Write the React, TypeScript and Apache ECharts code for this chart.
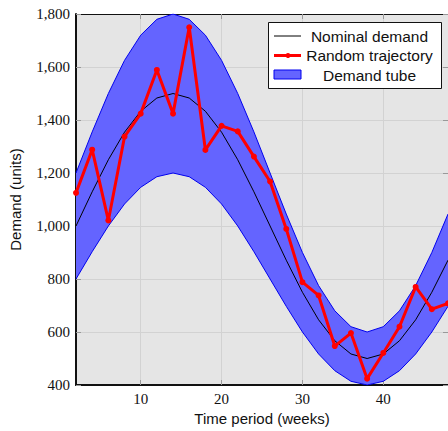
import React, { useEffect, useRef } from "react";
import * as echarts from "echarts";

const weeks = [2, 4, 6, 8, 10, 12, 14, 16, 18, 20, 22, 24, 26, 28, 30, 32, 34, 36, 38, 40, 42, 44, 46, 48];
const nominal = [1000, 1129, 1250, 1354, 1433, 1483, 1500, 1483, 1433, 1354, 1250, 1129, 1000, 871, 750, 646, 567, 517, 500, 517, 567, 646, 750, 871];
const upper = [1200, 1355, 1500, 1625, 1720, 1780, 1800, 1780, 1720, 1625, 1500, 1355, 1200, 1045, 900, 775, 680, 620, 600, 620, 680, 775, 900, 1045];
const lower = [800, 903, 1000, 1083, 1146, 1186, 1200, 1186, 1146, 1083, 1000, 903, 800, 697, 600, 517, 454, 414, 400, 414, 454, 517, 600, 697];
const trajectory = [1125, 1288, 1021, 1337, 1424, 1589, 1424, 1750, 1287, 1378, 1357, 1262, 1168, 989, 788, 738, 547, 596, 424, 521, 620, 770, 686, 708];
const xTicks = [10, 20, 30, 40];
const legendLabels = ["Nominal demand", "Random trajectory", "Demand tube"];

const SANS = "Liberation Sans, Arial, sans-serif";
const SERIF = "Liberation Serif, Times New Roman, serif";

export default function App() {
  const ref = useRef<HTMLDivElement>(null);
  useEffect(() => {
    const chart = echarts.init(ref.current!, undefined, { renderer: "svg" });
    const pair = (arr: number[]) => weeks.map((w, i) => [w, arr[i]]);
    const lx = 268, ly = 22;
    chart.setOption({
      animation: false,
      backgroundColor: "#ffffff",
      grid: {
        left: 75, top: 14, right: -4, bottom: 43,
        show: true, backgroundColor: "#e5e5e5", borderWidth: 0,
      },
      xAxis: [
        {
          type: "value", min: 2, max: 48,
          name: "Time period (weeks)", nameLocation: "middle", nameGap: 26,
          nameTextStyle: { fontFamily: SANS, fontSize: 15, color: "#111" },
          axisLine: { show: true, onZero: false, lineStyle: { color: "#111", width: 2 } },
          axisTick: { show: true, inside: true, length: 5, customValues: xTicks, lineStyle: { color: "#999" } },
          axisLabel: { customValues: xTicks, fontFamily: SERIF, fontSize: 15, color: "#111", margin: 6 },
          splitLine: { show: true, lineStyle: { color: "#d2d2d2", width: 1 } },
        },
        {
          type: "value", min: 2, max: 48, position: "top",
          axisLine: { show: true, onZero: false, lineStyle: { color: "#111", width: 1 } },
          axisTick: { show: true, inside: true, length: 5, customValues: xTicks, lineStyle: { color: "#999" } },
          axisLabel: { show: false },
          splitLine: { show: false },
        },
      ],
      yAxis: [
        {
          type: "value", min: 400, max: 1800, interval: 200,
          name: "Demand (units)", nameLocation: "middle", nameGap: 53,
          nameTextStyle: { fontFamily: SANS, fontSize: 15, color: "#111" },
          axisLine: { show: true, onZero: false, lineStyle: { color: "#111", width: 2 } },
          axisTick: { show: true, inside: true, length: 5, lineStyle: { color: "#999" } },
          axisLabel: {
            fontFamily: SERIF, fontSize: 15, color: "#111", margin: 6,
            formatter: (v: number) => v.toLocaleString("en-US"),
          },
          splitLine: { show: true, lineStyle: { color: "#d2d2d2", width: 1 } },
        },
        {
          type: "value", min: 400, max: 1800, interval: 200, position: "right",
          axisLine: { show: false },
          axisTick: { show: true, inside: true, length: 5, lineStyle: { color: "#999" } },
          axisLabel: { show: false },
          splitLine: { show: false },
        },
      ],
      series: [
        {
          type: "custom",
          data: pair(nominal),
          encode: { x: 0, y: 1 },
          clip: true,
          silent: true,
          z: 2,
          renderItem: (params: any, api: any) => {
            if (params.dataIndex !== 0) return null;
            const top = weeks.map((w, i) => api.coord([w, upper[i]]));
            const bot = weeks.map((w, i) => api.coord([w, lower[i]])).reverse();
            return {
              type: "polygon",
              shape: { points: top.concat(bot) },
              style: { fill: "#6464ff", stroke: "none" },
            };
          },
        },
        {
          type: "line", data: pair(upper), symbol: "none",
          lineStyle: { color: "#0000ee", width: 1 }, z: 3,
        },
        {
          type: "line", data: pair(lower), symbol: "none",
          lineStyle: { color: "#0000ee", width: 1 }, z: 3,
        },
        {
          type: "line", data: pair(nominal), symbol: "none",
          lineStyle: { color: "#000", width: 1 }, z: 4,
        },
        {
          type: "line", data: pair(trajectory), symbol: "circle", symbolSize: 6,
          itemStyle: { color: "#ff0000" },
          lineStyle: { color: "#ff0000", width: 3 }, z: 5,
        },
      ],
      graphic: [
        {
          type: "rect", left: lx, top: ly, z: 100,
          shape: { width: 173, height: 66 },
          style: { fill: "#fff", stroke: "#111", lineWidth: 1 },
        },
        {
          type: "line", z: 101,
          shape: { x1: lx + 6, y1: ly + 14, x2: lx + 33, y2: ly + 14 },
          style: { stroke: "#000", lineWidth: 1 },
        },
        {
          type: "line", z: 101,
          shape: { x1: lx + 6, y1: ly + 33.5, x2: lx + 33, y2: ly + 33.5 },
          style: { stroke: "#ff0000", lineWidth: 3 },
        },
        {
          type: "circle", z: 102,
          shape: { cx: lx + 20, cy: ly + 33.5, r: 2.5 },
          style: { fill: "#ff0000" },
        },
        {
          type: "rect", z: 101,
          shape: { x: lx + 6, y: ly + 48, width: 27, height: 9 },
          style: { fill: "#6464ff", stroke: "#0000ee", lineWidth: 1 },
        },
        ...legendLabels.map((t, i) => ({
          type: "text", z: 102,
          x: lx + 101.5, y: ly + 14 + i * 19.5,
          style: {
            text: t, fontFamily: SANS, fontSize: 15.5, fill: "#111",
            textAlign: "center", textVerticalAlign: "middle",
          },
        })),
      ],
    });
    return () => chart.dispose();
  }, []);
  return (
    <div
      ref={ref}
      style={{ position: "absolute", left: 0, top: 0, width: 448, height: 431 }}
    />
  );
}
